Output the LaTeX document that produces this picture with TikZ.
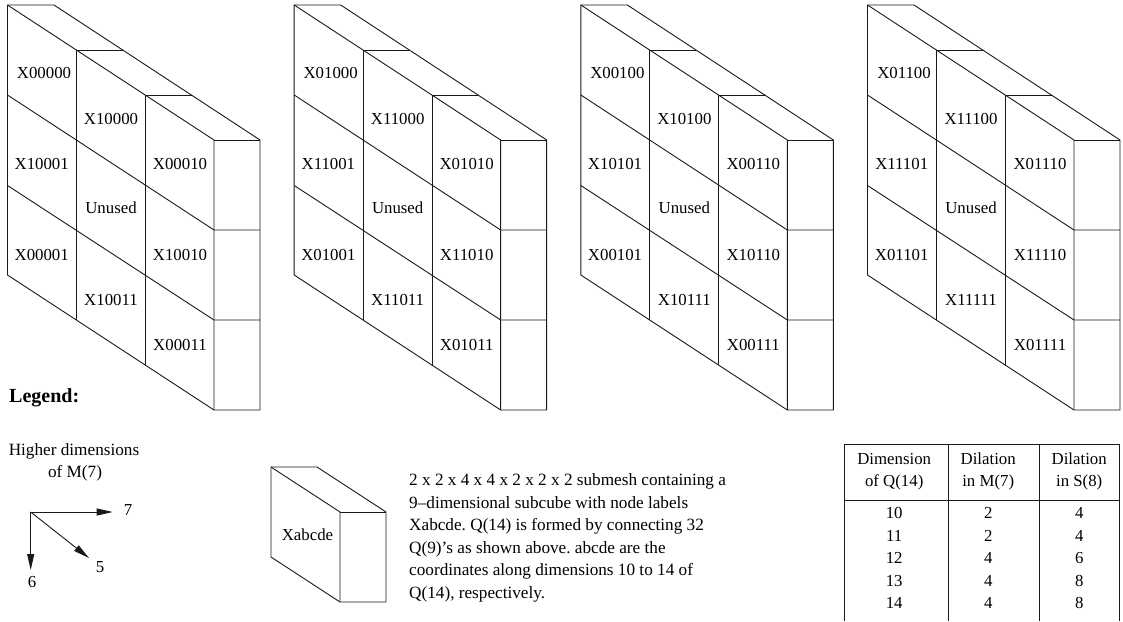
\documentclass[tikz,border=0pt]{standalone}
\usepackage{fontspec}
\setmainfont{Liberation Serif}
\usetikzlibrary{arrows.meta,matrix}
\frenchspacing

\begin{document}
\begin{tikzpicture}[
  x=1pt,y=-1pt,
  font=\fontsize{16.8}{22.5}\selectfont,
  wide/.style={font=\fontsize{17.2}{22.5}\selectfont},
  edge/.style={draw=black!90,line width=0.9pt,line join=round},
  lbl/.style={anchor=base,inner sep=0pt},
  dimarrow/.style={edge,-{Triangle[length=16pt,width=7pt]}},
  hcell/.style={inner sep=0pt,minimum height=56pt,align=center,anchor=center},
  dcell/.style={inner sep=0pt,text height=16pt,text depth=6.5pt,anchor=center}
]
\useasboundingbox (0,0) rectangle (1123,621);
\foreach \sx/\bc in {0/00,286.67/10,573.33/01,860/11} {
  \begin{scope}[xshift=\sx pt]
    \draw[edge] (7.5,5) -- (54,5) -- (260,140) -- (260,410) -- (214,410) -- (7.5,275) -- cycle;
    \draw[edge] (7.5,5) -- (214,140) -- (214,410);
    \draw[edge] (214,140) -- (260,140);
    \draw[edge] (7.5,95) -- (214,230) -- (260,230);
    \draw[edge] (7.5,185.5) -- (214,320) -- (260,320);
    \draw[edge] (122.7,50) -- (76.5,50) -- (76.5,320);
    \draw[edge] (191.7,95) -- (145.3,95) -- (145.3,365);
    \node[lbl] (x0\bc00) at (44,78.7) {X0\bc00};
    \node[lbl] (x1\bc00) at (111,124) {X1\bc00};
    \node[lbl] (x1\bc01) at (41.7,169) {X1\bc01};
    \node[lbl] (x0\bc10) at (180,169) {X0\bc10};
    \node[lbl] (unused\bc) at (111,213) {Unused};
    \node[lbl] (x0\bc01) at (41.7,260) {X0\bc01};
    \node[lbl] (x1\bc10) at (180,260) {X1\bc10};
    \node[lbl] (x1\bc11) at (111,305) {X1\bc11};
    \node[lbl] (x0\bc11) at (180,350) {X0\bc11};
  \end{scope}
}
\node[lbl,anchor=base west,font=\fontsize{20}{22}\selectfont\bfseries] (legend) at (9,402.7) {Legend:};
\node[lbl,wide] (higher) at (74,455) {Higher dimensions};
\node[lbl,wide] (ofm) at (75,477) {of M(7)};
\coordinate (dimo) at (30.7,512);
\coordinate (dimx) at (112.7,512);
\coordinate (dimy) at (30.7,570);
\coordinate (dimz) at (89,558);
\draw[dimarrow] (dimo) -- (dimx);
\draw[dimarrow] (dimo) -- (dimy);
\draw[dimarrow] (dimo) -- (dimz);
\node[lbl] (dim7) at (128,515) {7};
\node[lbl] (dim5) at (100,572) {5};
\node[lbl] (dim6) at (32,587) {6};
\draw[edge] (271,467) -- (317,467) -- (386,512) -- (386,602) -- (340,602) -- (271,557) -- cycle;
\draw[edge] (271,467) -- (340,512) -- (340,602);
\draw[edge] (340,512) -- (386,512);
\node[lbl] (xabcde) at (307.5,540) {Xabcde};
\node[anchor=north west,inner sep=0pt,align=left,wide] (note) at (409,473.5)
  {2 x 2 x 4 x 4 x 2 x 2 x 2 submesh containing a\\
   9--dimensional subcube with node labels\\
   Xabcde. Q(14) is formed by connecting 32\\
   Q(9)’s as shown above. abcde are the\\
   coordinates along dimensions 10 to 14 of\\
   Q(14), respectively.};
\matrix (tbl) [anchor=north west,inner sep=0pt,
  column 1/.style={nodes={minimum width=100pt}},
  column 2/.style={nodes={minimum width=88pt}},
  column 3/.style={nodes={minimum width=94pt}}] at (844,443.5) {
  \node[hcell] (hdim) {Dimension\\of Q(14)}; &
  \node[hcell] (hm) {Dilation\\in M(7)}; &
  \node[hcell] (hs) {Dilation\\in S(8)}; \\[3pt]
  \node[dcell] (d10) {10}; & \node[dcell] (m10) {2}; & \node[dcell] (s10) {4}; \\
  \node[dcell] (d11) {11}; & \node[dcell] (m11) {2}; & \node[dcell] (s11) {4}; \\
  \node[dcell] (d12) {12}; & \node[dcell] (m12) {4}; & \node[dcell] (s12) {6}; \\
  \node[dcell] (d13) {13}; & \node[dcell] (m13) {4}; & \node[dcell] (s13) {8}; \\
  \node[dcell] (d14) {14}; & \node[dcell] (m14) {4}; & \node[dcell] (s14) {8}; \\
};
\draw[edge] (844,621) -- (844,444) -- (1119,444) -- (1119,621);
\draw[edge] (844,500) -- (1119,500);
\draw[edge] (948,444) -- (948,621);
\draw[edge] (1039,444) -- (1039,621);
\end{tikzpicture}
\end{document}
